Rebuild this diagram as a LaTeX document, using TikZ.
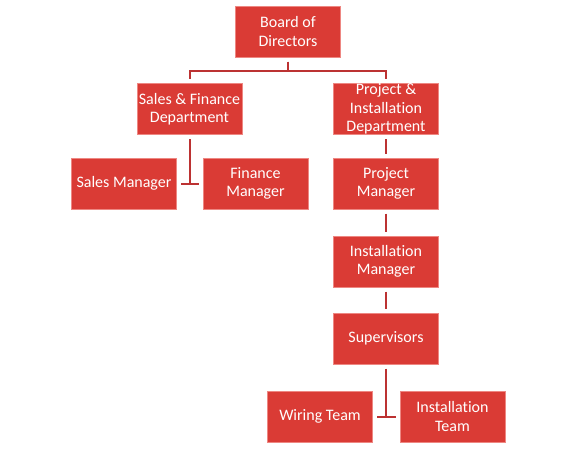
\documentclass[tikz,border=0pt]{standalone}
\usepackage{fontspec}
\setmainfont[Ligatures=NoCommon]{Carlito}
\definecolor{boxfill}{RGB}{218,59,53}
\definecolor{boxline}{RGB}{238,135,130}
\definecolor{connline}{RGB}{188,50,50}
\begin{document}
\begin{tikzpicture}[x=1pt,y=-1pt,
  orgbox/.style={rectangle,draw=boxline,line width=1pt,fill=boxfill,text=white,
    minimum width=105pt,minimum height=51pt,inner sep=0pt,align=center,
    font=\fontsize{16}{18.5}\selectfont},
  conn/.style={draw=connline,line width=2pt,shorten <=4pt,shorten >=4pt}]
\useasboundingbox (0,0) rectangle (576,448);
\node[orgbox] (board) at (288,31.5) {Board of\\Directors};
\node[orgbox] (sf) at (189.5,109) {Sales \& Finance\\Department};
\node[orgbox] (pi) at (386,109) {Project \&\\Installation\\Department};
\node[orgbox] (sm) at (124,183.5) {Sales Manager};
\node[orgbox] (fm) at (255.5,183.5) {Finance\\Manager};
\node[orgbox] (pm) at (386,183.5) {Project\\Manager};
\node[orgbox] (im) at (386,261.5) {Installation\\Manager};
\node[orgbox] (sup) at (386,338.5) {Supervisors};
\node[orgbox] (wt) at (320,416.5) {Wiring Team};
\node[orgbox] (it) at (452.5,416.5) {Installation\\Team};
% tree from board
\draw[conn] (board.south) -- ++(0,13.5) -| (sf.north);
\draw[conn] (board.south) -- ++(0,13.5) -| (pi.north);
% sales & finance assistants
\draw[conn,shorten >=0pt] (sf.south) -- (sf.south |- sm.east);
\draw[conn] (sm.east) -- (fm.west);
% right column
\draw[conn] (pi.south) -- (pm.north);
\draw[conn] (pm.south) -- (im.north);
\draw[conn] (im.south) -- (sup.north);
% supervisors teams
\draw[conn,shorten >=0pt] (sup.south) -- (sup.south |- wt.east);
\draw[conn] (wt.east) -- (it.west);
\end{tikzpicture}
\end{document}
